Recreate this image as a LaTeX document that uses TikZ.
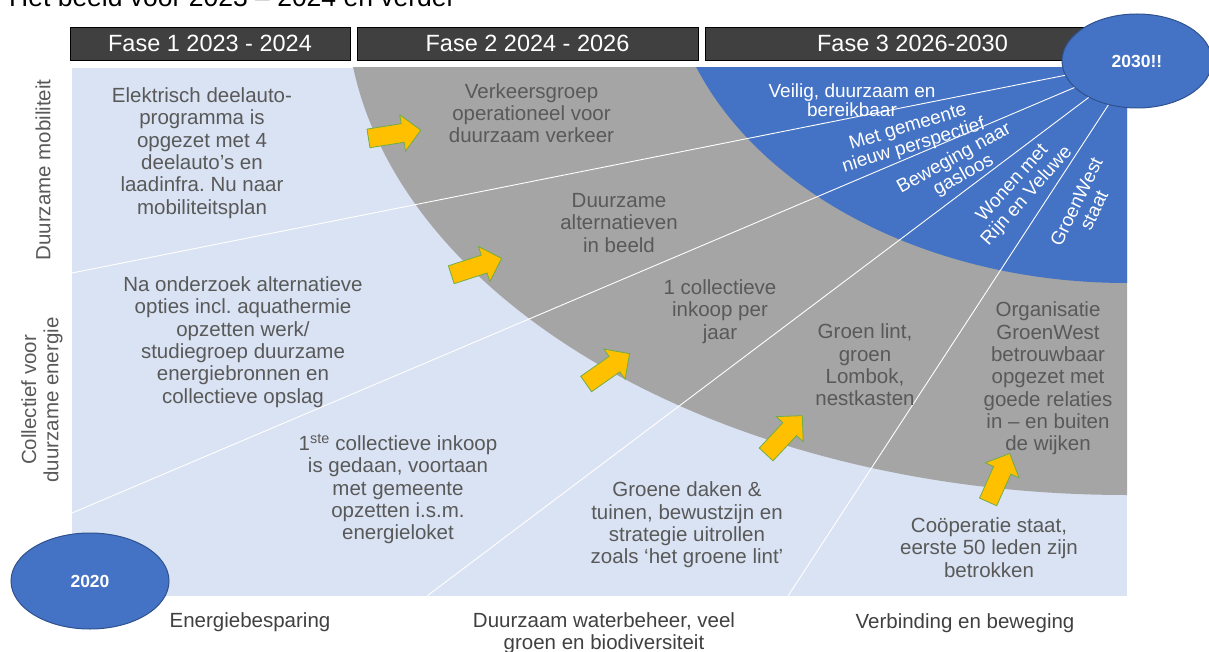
\documentclass[tikz,border=0pt]{standalone}
\usepackage{fontspec}
\setmainfont{Liberation Sans}
\usetikzlibrary{shapes.geometric,shapes.arrows}
\definecolor{lightbg}{HTML}{DAE3F3}
\definecolor{ringgray}{HTML}{A5A5A5}
\definecolor{coreblue}{HTML}{4472C4}
\definecolor{edgeblue}{HTML}{2F528F}
\definecolor{barfill}{HTML}{404040}
\definecolor{txtgray}{HTML}{595959}
\definecolor{arrowfill}{HTML}{FFC000}
\definecolor{arrowedge}{HTML}{70AD47}
\frenchspacing

\begin{document}
\begin{tikzpicture}[x=1pt,y=1pt,
  phase/.style={draw=black,line width=0.8pt,fill=barfill,text=white,minimum height=33,font=\fontsize{23.5}{26}\selectfont},
  goal/.style={text=txtgray,align=center,font=\fontsize{20.5}{22.3}\selectfont},
  track/.style={text=white,align=center,font=\fontsize{19}{19.5}\selectfont},
  theme/.style={text=txtgray,align=center,font=\fontsize{20.5}{22.3}\selectfont},
  year/.style={ellipse,draw=edgeblue,line width=1pt,fill=coreblue,text=white,font=\fontsize{17.5}{19}\selectfont\bfseries},
  push/.style={single arrow,draw=arrowedge,line width=0.8pt,fill=arrowfill,inner xsep=0pt,inner ysep=9pt,minimum height=53,single arrow head extend=9},
  ray/.style={white,line width=0.9pt}]
\tikzstyle{every node}+=[inner sep=0pt]
\useasboundingbox (0,0) rectangle (1209,-652);
\node [anchor=base west,font=\fontsize{26.5}{30}\selectfont] (title) at (9,-7) {Het beeld voor 2023 – 2024 en verder};
\node [phase,minimum width=280] (f1) at (210,-43.5) {Fase 1 2023 - 2024};
\node [phase,minimum width=341] (f2) at (527.5,-43.5) {Fase 2 2024 - 2026};
\node [phase,minimum width=415] (f3) at (912.5,-43.5) {Fase 3 2026-2030};
\fill [lightbg] (72,-68) rectangle (1127,-596);
\begin{scope}
\clip (72,-68) rectangle (1127,-596);
\fill [ringgray] (1127,0) ellipse [x radius=781,y radius=495];
\fill [coreblue] (1127,50) ellipse [x radius=460,y radius=333];
\end{scope}
\node [year,minimum width=150,minimum height=94] (y2030) at (1137,-61) {2030!!};
\coordinate (r1) at (72,-273);
\coordinate (r2) at (72,-513);
\coordinate (r3) at (427,-596);
\coordinate (r4) at (788,-596);
\draw [ray] (y2030) -- (r1);
\draw [ray] (y2030) -- (r2);
\draw [ray] (y2030) -- (r3);
\draw [ray] (y2030) -- (r4);
\node [theme,rotate=90] (l1) at (43,-170) {Duurzame mobiliteit};
\node [theme,rotate=90] (l2) at (42,-400) {Collectief voor\\duurzame energie};
\node [goal] (g1) at (202,-153) {Elektrisch deelauto-\\programma is\\opgezet met 4\\deelauto’s en\\laadinfra. Nu naar\\mobiliteitsplan};
\node [goal] (g2) at (243,-342) {Na onderzoek alternatieve\\opties incl. aquathermie\\opzetten werk/\\studiegroep duurzame\\energiebronnen en\\collectieve opslag};
\node [goal] (g3) at (398,-489) {1\textsuperscript{ste} collectieve inkoop\\is gedaan, voortaan\\met gemeente\\opzetten i.s.m.\\energieloket};
\node [goal] (g4) at (531.5,-113) {Verkeersgroep\\operationeel voor\\duurzaam verkeer};
\node [goal] (g5) at (619,-223) {Duurzame\\alternatieven\\in beeld};
\node [goal] (g6) at (720,-311.5) {1 collectieve\\inkoop per\\jaar};
\node [goal] (g7) at (865,-365) {Groen lint,\\groen\\Lombok,\\nestkasten};
\node [goal] (g8) at (1048,-378.5) {Organisatie\\GroenWest\\betrouwbaar\\opgezet met\\goede relaties\\in – en buiten\\de wijken};
\node [goal] (g9) at (687,-525) {Groene daken \&\\tuinen, bewustzijn en\\strategie uitrollen\\zoals ‘het groene lint’};
\node [goal] (g10) at (989,-547.5) {Coöperatie staat,\\eerste 50 leden zijn\\betrokken};
\node [track] (v1) at (852,-100) {Veilig, duurzaam en\\bereikbaar};
\node [track,rotate=17] (v2) at (911,-137) {Met gemeente\\nieuw perspectief};
\node [track,rotate=29] (v3) at (959,-167) {Beweging naar\\gasloos};
\node [track,rotate=48] (v4) at (1020,-190) {Wonen met\\Rijn en Veluwe};
\node [track,rotate=64] (v5) at (1085,-206) {GroenWest\\staat};
\node [push,rotate=9] (a1) at (390,-135) {};
\node [push,rotate=18] (a2) at (472,-268) {};
\node [push,rotate=35] (a3) at (604,-371.5) {};
\node [push,rotate=47] (a4) at (781,-438.5) {};
\node [push,rotate=66] (a5) at (997,-482) {};
\node [year,minimum width=158,minimum height=96] (y2020) at (90,-581) {2020};
\node [theme,text=barfill] (b1) at (250,-622) {Energiebesparing};
\node [theme,text=barfill] (b2) at (604,-633) {Duurzaam waterbeheer, veel\\groen en biodiversiteit};
\node [theme,text=barfill] (b3) at (965,-623) {Verbinding en beweging};
\end{tikzpicture}
\end{document}
